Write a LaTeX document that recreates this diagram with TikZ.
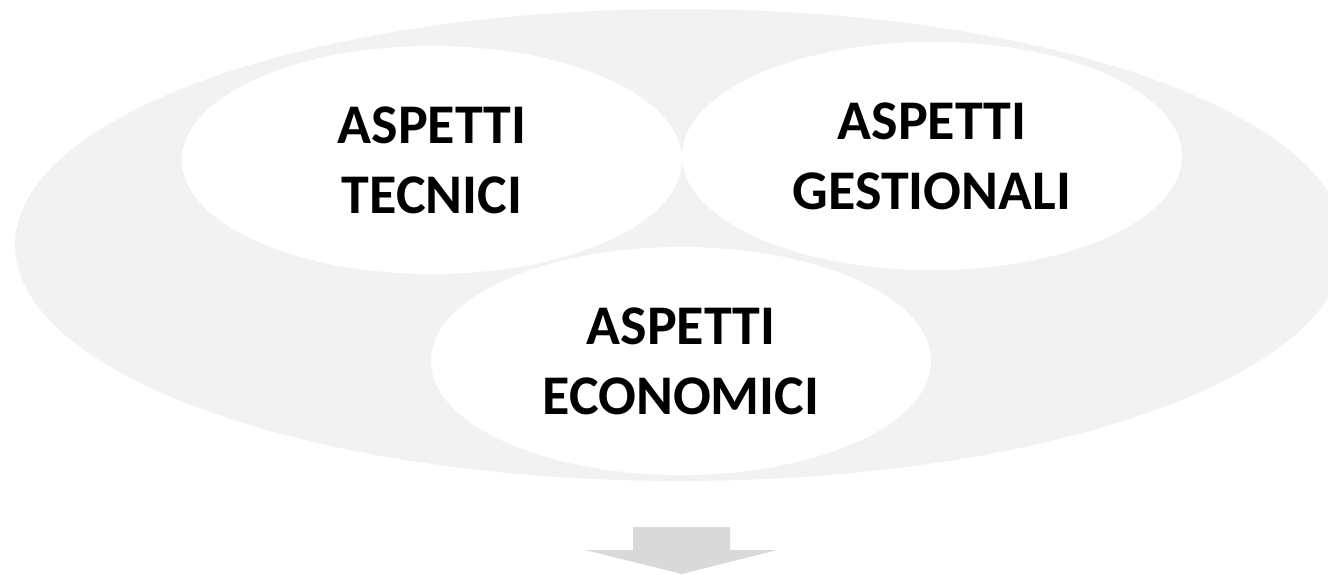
\documentclass[tikz,border=0pt]{standalone}
\usepackage{fontspec}
\setmainfont{Carlito}
\usetikzlibrary{shapes.geometric}
\definecolor{haze}{HTML}{F2F2F2}
\definecolor{arrowgray}{HTML}{D9D9D9}
\begin{document}
\begin{tikzpicture}[x=1pt,y=-1pt,
  outerbowl/.style={ellipse, fill=haze, inner sep=0pt,
    minimum width=1330pt, minimum height=472pt},
  aspect/.style={ellipse, fill=white, inner sep=0pt,
    minimum width=500pt, minimum height=228pt, align=center,
    font=\fontsize{56}{70}\selectfont\bfseries},
]
\useasboundingbox (0,0) rectangle (1328,574);
\clip (0,0) rectangle (1328,574);

% light grey backdrop holding the three aspects
\node[outerbowl] (bowl) at (680,245) {};

% the three aspects
\node[aspect] (tec) at (432,160) {ASPETTI\\TECNICI};
\node[aspect] (ges) at (932,156) {ASPETTI\\GESTIONALI};
\node[aspect] (eco) at (681,361) {ASPETTI\\ECONOMICI};

% block arrow pointing down
\coordinate (tip) at (682,574);
\fill[arrowgray] (tip) -- ++(95,-24) -- ++(-47,0) -- ++(0,-23) -- ++(-97,0)
  -- ++(0,23) -- ++(-48,0) -- cycle;
\end{tikzpicture}
\end{document}
